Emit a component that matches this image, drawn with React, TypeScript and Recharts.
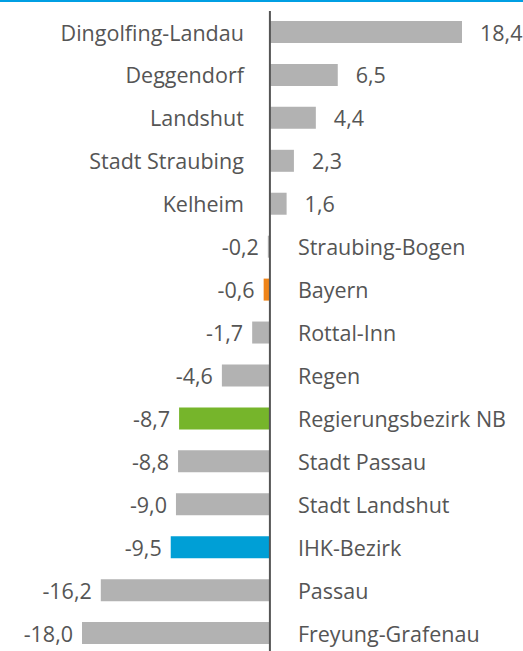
import React from "react"
import { BarChart, Bar, XAxis, YAxis, Cell, LabelList, ReferenceLine } from "recharts"

const regions = [
  "Dingolfing-Landau",
  "Deggendorf",
  "Landshut",
  "Stadt Straubing",
  "Kelheim",
  "Straubing-Bogen",
  "Bayern",
  "Rottal-Inn",
  "Regen",
  "Regierungsbezirk NB",
  "Stadt Passau",
  "Stadt Landshut",
  "IHK-Bezirk",
  "Passau",
  "Freyung-Grafenau",
]

const changes = [18.4, 6.5, 4.4, 2.3, 1.6, -0.2, -0.6, -1.7, -4.6, -8.7, -8.8, -9.0, -9.5, -16.2, -18.0]

const highlight: Record<string, string> = {
  Bayern: "#f08519",
  "Regierungsbezirk NB": "#76b52b",
  "IHK-Bezirk": "#009fd6",
}

const GREY = "#b2b2b2"
const TEXT = "#555555"

const data = regions.map((name, i) => ({ name, value: changes[i] }))

const fmt = (v: number) => v.toFixed(1).replace(".", ",")

function RowLabel(props: any) {
  const { x, y, width, height, index } = props
  const v = changes[index]
  const name = regions[index]
  const cy = y + height / 2
  const a = x
  const b = x + width
  const zero = v >= 0 ? Math.min(a, b) : Math.max(a, b)
  const end = v >= 0 ? Math.max(a, b) : Math.min(a, b)
  const style = { fontFamily: "'Open Sans', sans-serif", fontSize: 21.5, fill: TEXT }
  if (v >= 0) {
    return (
      <g>
        <text x={zero - 26} y={cy} textAnchor="end" dominantBaseline="central" style={style}>
          {name}
        </text>
        <text x={end + 18} y={cy} textAnchor="start" dominantBaseline="central" style={style}>
          {fmt(v)}
        </text>
      </g>
    )
  }
  return (
    <g>
      <text x={end - 9} y={cy} textAnchor="end" dominantBaseline="central" style={style}>
        {fmt(v)}
      </text>
      <text x={zero + 28} y={cy} textAnchor="start" dominantBaseline="central" style={style}>
        {name}
      </text>
    </g>
  )
}

export default function App() {
  return (
    <div
      style={{
        position: "absolute",
        left: 0,
        top: 0,
        width: 523,
        height: 651,
        overflow: "hidden",
        background: "#fff",
      }}
    >
      <div style={{ position: "absolute", left: 0, top: 0, width: 523, height: 2, background: "#009fe3" }} />
      <BarChart
        width={523}
        height={655}
        data={data}
        layout="vertical"
        margin={{ top: 11, right: 61, bottom: 0, left: 82 }}
      >
        <XAxis type="number" domain={[-18, 18.4]} hide />
        <YAxis type="category" dataKey="name" hide />
        <Bar dataKey="value" barSize={22} isAnimationActive={false}>
          {data.map((d) => (
            <Cell key={d.name} fill={highlight[d.name] ?? GREY} />
          ))}
          <LabelList dataKey="value" content={RowLabel} />
        </Bar>
        <ReferenceLine x={0} stroke="#555" strokeWidth={2} />
      </BarChart>
    </div>
  )
}
